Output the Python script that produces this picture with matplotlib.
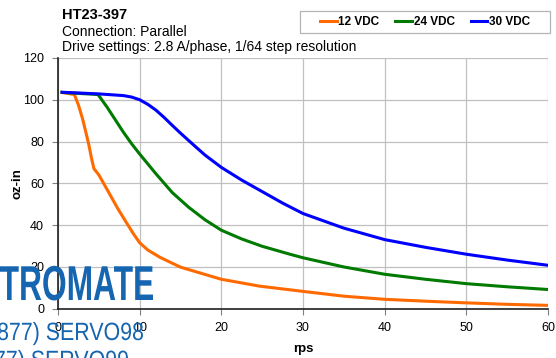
import matplotlib
matplotlib.use("Agg")
import matplotlib.pyplot as plt
from matplotlib.font_manager import FontProperties
from matplotlib.patches import PathPatch, Rectangle
from matplotlib.textpath import TextPath
from matplotlib.transforms import Affine2D, IdentityTransform

plt.rcParams['font.family'] = ['Liberation Sans', 'DejaVu Sans']

# speed (rps) and torque (oz-in)
rps_12 = [0.5, 2.0, 2.5, 3.0, 3.5, 3.8, 4.1, 4.4, 5, 6.3, 7.3, 8.4, 9.2, 10, 11, 12.5, 15, 20, 24.7, 30, 35, 40, 45, 50, 55, 60]
torque_12 = [103.5, 102.5, 97.5, 91, 83, 78, 72, 67, 64, 55, 48, 41, 36, 31.5, 28, 24.5, 19.8, 14, 10.7, 8.2, 5.9, 4.4, 3.5, 2.7, 2.0, 1.5]

rps_24 = [0.5, 4.9, 6, 7, 8, 9, 10, 12, 14, 16, 18, 20, 22.5, 25, 28.4, 30, 35, 40, 45, 50, 55, 60]
torque_24 = [103.5, 102.5, 96.5, 90.5, 84.5, 79, 74, 64.5, 55.5, 48.5, 42.5, 37.5, 33.3, 29.8, 26, 24.3, 19.9, 16.4, 14, 11.9, 10.4, 9.1]

rps_30 = [0.5, 5, 8, 9, 10, 11, 12, 13, 14, 15, 16.7, 18, 20, 22.5, 25, 27.5, 30, 35, 40, 45, 50, 55, 60]
torque_30 = [103.6, 102.8, 102, 101.3, 100, 97.8, 95, 91.5, 87.7, 84, 78, 73.5, 67.6, 61.5, 56, 50.5, 45.5, 38.5, 33, 29.3, 26, 23.2, 20.7]

series = [
    ("12 VDC", rps_12, torque_12, "#ff6a00"),
    ("24 VDC", rps_24, torque_24, "#007a00"),
    ("30 VDC", rps_30, torque_30, "#0000ff"),
]

x_ticks = [0, 10, 20, 30, 40, 50, 60]
y_ticks = [0, 20, 40, 60, 80, 100, 120]

FIG_W, FIG_H = 556, 358


def add_squeezed_text(fig, full, visible, size, weight, right, baseline, width, color):
    # condensed lettering: squeeze a text path so that `visible` spans `width` px
    prop = FontProperties(family='Liberation Sans', weight=weight)
    vis_ext = TextPath((0, 0), visible, size=size, prop=prop).get_extents()
    sx = width / vis_ext.width
    path = TextPath((0, 0), full, size=size, prop=prop)
    ext = path.get_extents()
    tr = Affine2D().scale(sx, 1).translate(right - ext.x1 * sx, FIG_H - baseline)
    patch = PathPatch(tr.transform_path(path), facecolor=color, edgecolor='none',
                      transform=IdentityTransform(), zorder=10)
    fig.add_artist(patch)


def main():
    fig = plt.figure(figsize=(FIG_W / 100, FIG_H / 100), dpi=100)
    ax = fig.add_axes([58 / FIG_W, 1 - 308.5 / FIG_H, 490 / FIG_W, 250.5 / FIG_H])

    handles = []
    for label, xs, ys, color in series:
        line, = ax.plot(xs, ys, color=color, linewidth=2.2, label=label)
        handles.append(line)

    ax.set_xlim(0, 60)
    ax.set_ylim(0, 120)
    ax.set_xticks(x_ticks)
    ax.set_yticks(y_ticks)
    ax.grid(True, color='#c0c0c0', linewidth=0.9)
    ax.set_axisbelow(True)
    for side in ('top', 'right'):
        ax.spines[side].set_visible(False)
    for side in ('left', 'bottom'):
        ax.spines[side].set_linewidth(1.2)
        ax.spines[side].set_color('#202020')
    ax.tick_params(labelsize=9, length=4, width=0.8, color='#808080', pad=6)

    ax.set_xlabel('rps', fontsize=9.5, fontweight='bold', labelpad=6)
    ax.set_ylabel('oz-in', fontsize=9.5, fontweight='bold', labelpad=0)

    fig.text(62 / FIG_W, 1 - 19 / FIG_H, 'HT23-397', fontsize=10.5, fontweight='bold')
    fig.text(62 / FIG_W, 1 - 36 / FIG_H, 'Connection: Parallel', fontsize=10)
    fig.text(62 / FIG_W, 1 - 51 / FIG_H, 'Drive settings: 2.8 A/phase, 1/64 step resolution',
             fontsize=10)

    fig.add_artist(Rectangle((300 / FIG_W, 1 - 33 / FIG_H), 250 / FIG_W, 22 / FIG_H,
                             transform=fig.transFigure, facecolor='white',
                             edgecolor='#b4b4b4', linewidth=0.9, zorder=1))
    leg = fig.legend(handles=handles, loc='center',
                     bbox_to_anchor=(425 / FIG_W, 1 - 22 / FIG_H), ncol=3, frameon=False,
                     handlelength=1.4, handletextpad=0.15, columnspacing=1.35,
                     borderpad=0, prop={'weight': 'bold', 'size': 8.5})
    leg.set_zorder(2)

    # watermark partially cut at the left edge
    wm = '#1565b0'
    add_squeezed_text(fig, 'ELECTROMATE', 'TROMATE', 49, 'bold', 153, 300, 153, wm)
    add_squeezed_text(fig, '(877) SERVO98', '877) SERVO98', 25, 'normal', 143, 340, 145, wm)
    add_squeezed_text(fig, '(877) SERVO99', '877) SERVO99', 25, 'normal', 128, 368, 145, wm)

    fig.savefig('out.png', dpi=100)


if __name__ == '__main__':
    main()
